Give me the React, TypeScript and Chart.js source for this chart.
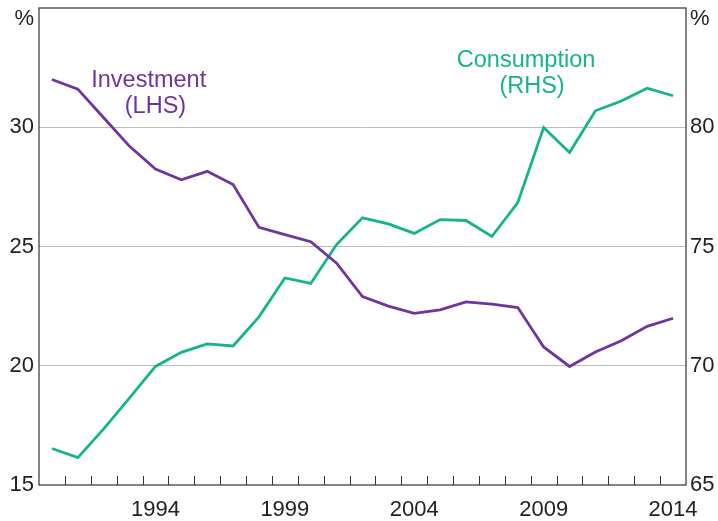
import React, { useEffect, useRef } from "react";
import { Chart, registerables } from "chart.js";

Chart.register(...registerables);

const years = [
  "1990", "1991", "1992", "1993", "1994", "1995", "1996", "1997", "1998", "1999",
  "2000", "2001", "2002", "2003", "2004", "2005", "2006", "2007", "2008", "2009",
  "2010", "2011", "2012", "2013", "2014",
];
const shownYears = ["1994", "1999", "2004", "2009", "2014"];

const investment = [
  32.0, 31.6, 30.4, 29.2, 28.25, 27.8, 28.15, 27.6, 25.8, 25.5,
  25.2, 24.3, 22.9, 22.5, 22.2, 22.34, 22.68, 22.58, 22.44, 20.79,
  19.97, 20.58, 21.05, 21.65, 21.99,
];
const consumption = [
  66.53, 66.15, 67.35, 68.65, 69.97, 70.56, 70.92, 70.83, 72.05, 73.68,
  73.45, 75.08, 76.2, 75.95, 75.55, 76.13, 76.09, 75.42, 76.84, 79.99,
  78.94, 80.69, 81.1, 81.64, 81.32,
];

const leftTicks = [15, 20, 25, 30, 35];
const rightTicks = [65, 70, 75, 80, 85];

const PURPLE = "#7034A0";
const GREEN = "#14B48C";
const TEXT = "#222222";
const FONT = "Arial, 'Liberation Sans', sans-serif";

export default function App() {
  const ref = useRef<HTMLCanvasElement | null>(null);

  useEffect(() => {
    document.body.style.margin = "0";
    const canvas = ref.current;
    if (!canvas) return;

    const framePlugin = {
      id: "frame",
      afterDraw(chart: any) {
        const { ctx, chartArea } = chart;
        const { left, right, top, bottom } = chartArea;
        const x = chart.scales.x;
        const yL = chart.scales.y;
        const yR = chart.scales.y1;
        ctx.save();
        ctx.strokeStyle = "#333333";
        ctx.lineWidth = 1;
        const step = x.getPixelForValue(1) - x.getPixelForValue(0);
        for (let i = 1; i < years.length; i++) {
          const px = Math.round(x.getPixelForValue(i) - step / 2) + 0.5;
          ctx.beginPath();
          ctx.moveTo(px, bottom);
          ctx.lineTo(px, bottom - 9);
          ctx.stroke();
        }
        ctx.strokeStyle = "#333333";
        ctx.lineWidth = 1.2;
        ctx.strokeRect(left, top, right - left, bottom - top);
        ctx.fillStyle = TEXT;
        ctx.font = `22px ${FONT}`;
        ctx.textBaseline = "middle";
        ctx.textAlign = "right";
        ctx.fillText("%", left - 5, top + 11);
        ctx.textAlign = "left";
        ctx.fillText("%", right + 4, top + 11);
        ctx.font = `23.5px ${FONT}`;
        ctx.textAlign = "center";
        ctx.fillStyle = PURPLE;
        ctx.fillText("Investment", x.getPixelForValue(3.74), yL.getPixelForValue(31.95));
        ctx.fillText("(LHS)", x.getPixelForValue(4.0), yL.getPixelForValue(30.85));
        ctx.fillStyle = GREEN;
        ctx.fillText("Consumption", x.getPixelForValue(18.32), yR.getPixelForValue(82.8));
        ctx.fillText("(RHS)", x.getPixelForValue(18.55), yR.getPixelForValue(81.72));
        ctx.restore();
      },
    };

    const chart = new Chart(canvas, {
      type: "line",
      data: {
        labels: years,
        datasets: [
          {
            label: "Investment (LHS)",
            data: investment,
            borderColor: PURPLE,
            borderWidth: 2.8,
            pointRadius: 0,
            tension: 0,
            yAxisID: "y",
          },
          {
            label: "Consumption (RHS)",
            data: consumption,
            borderColor: GREEN,
            borderWidth: 2.8,
            pointRadius: 0,
            tension: 0,
            yAxisID: "y1",
          },
        ],
      },
      options: {
        responsive: false,
        animation: false,
        layout: { padding: { top: 8, left: 0, right: 0, bottom: 0 } },
        plugins: {
          legend: { display: false },
          tooltip: { enabled: false },
        },
        scales: {
          x: {
            type: "category",
            offset: true,
            grid: { display: false, offset: true },
            border: { display: false },
            ticks: {
              autoSkip: false,
              maxRotation: 0,
              minRotation: 0,
              padding: 4,
              color: TEXT,
              font: { size: 22, family: FONT },
              callback: (_v: any, i: number) =>
                shownYears.includes(years[i]) ? years[i] : "",
            },
            afterFit: (s: any) => {
              s.height = 36;
              s.paddingLeft = 0;
              s.paddingRight = 0;
            },
          },
          y: {
            position: "left",
            min: 15,
            max: 35,
            afterBuildTicks: (s: any) => {
              s.ticks = leftTicks.map((v) => ({ value: v }));
            },
            grid: {
              drawTicks: false,
              color: (c: any) =>
                c.tick && (c.tick.value === 15 || c.tick.value === 35)
                  ? "rgba(0,0,0,0)"
                  : "#bdbdbd",
              lineWidth: 1,
            },
            border: { display: false },
            ticks: {
              padding: 5,
              color: TEXT,
              font: { size: 22, family: FONT },
              callback: (v: any) => (v === 35 ? "" : String(v)),
            },
            afterFit: (s: any) => {
              s.width = 39;
              s.paddingTop = 0;
              s.paddingBottom = 0;
            },
          },
          y1: {
            position: "right",
            min: 65,
            max: 85,
            afterBuildTicks: (s: any) => {
              s.ticks = rightTicks.map((v) => ({ value: v }));
            },
            grid: { drawOnChartArea: false, drawTicks: false },
            border: { display: false },
            ticks: {
              padding: 4,
              color: TEXT,
              font: { size: 22, family: FONT },
              callback: (v: any) => (v === 85 ? "" : String(v)),
            },
            afterFit: (s: any) => {
              s.width = 32;
              s.paddingTop = 0;
              s.paddingBottom = 0;
            },
          },
        },
      },
      plugins: [framePlugin],
    });

    return () => chart.destroy();
  }, []);

  return (
    <div style={{ position: "fixed", left: 0, top: 0, width: 718, height: 521, background: "#fff" }}>
      <canvas ref={ref} width={718} height={521} style={{ display: "block" }} />
    </div>
  );
}
